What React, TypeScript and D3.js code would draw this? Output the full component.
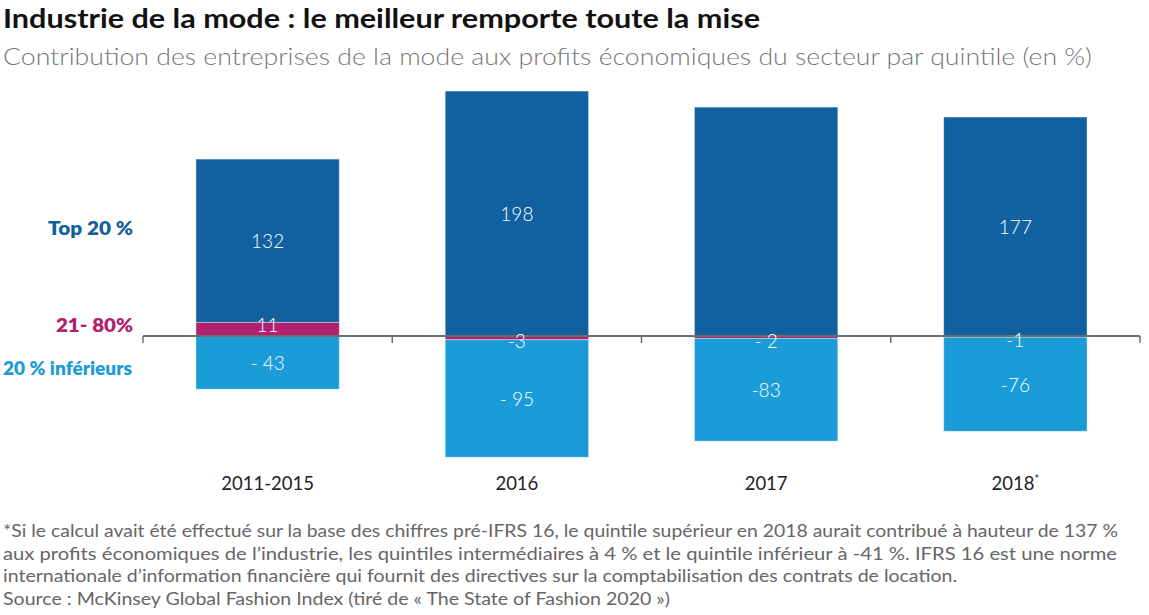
import * as d3 from "d3";

const categories = ["2011-2015", "2016", "2017", "2018"];
const top20 = [132, 198, 185, 177];
const mid = [11, -3, -2, -1];
const bottom = [-43, -95, -83, -76];

const topLabels = ["132", "198", "", "177"];
const midLabels = ["11", "-3", "- 2", "-1"];
const bottomLabels = ["- 43", "- 95", "-83", "-76"];

const seriesNames = ["21- 80%", "Top 20 %", "20 % inférieurs"];

const footnote = [
  "*Si le calcul avait été effectué sur la base des chiffres pré-IFRS 16, le quintile supérieur en 2018 aurait contribué à hauteur de 137 %",
  "aux profits économiques de l’industrie, les quintiles intermédiaires à 4 % et le quintile inférieur à -41 %. IFRS 16 est une norme",
  "internationale d’information financière qui fournit des directives sur la comptabilisation des contrats de location.",
  "Source : McKinsey Global Fashion Index (tiré de « The State of Fashion 2020 »)",
];
const footnoteWidths = [1115, 1114, 954, 667];

const COLORS: Record<string, string> = {
  mid: "#b3206f",
  top: "#1161a0",
  bottom: "#1b9cd8",
};

export default function App() {
  const width = 1149;
  const height = 615;
  const font = "Lato, 'Noto Sans', sans-serif";

  const rows = categories.map((c, i) => ({
    cat: c,
    mid: mid[i],
    top: top20[i],
    bottom: bottom[i],
  }));

  const stack = d3
    .stack<any>()
    .keys(["mid", "top", "bottom"])
    .offset(d3.stackOffsetDiverging);
  const series = stack(rows);

  const xScale = d3
    .scaleBand()
    .domain(categories)
    .range([143, 1140])
    .paddingInner(0.425)
    .paddingOuter(0.2125);

  const zeroY = 336;
  const k = 1.237;
  const yScale = d3
    .scaleLinear()
    .domain([-100, 200])
    .range([zeroY + 100 * k, zeroY - 200 * k]);

  const step = xScale.step();
  const tickXs = d3.range(categories.length + 1).map((i) => 143 + i * step);

  const labelFor: Record<string, string[]> = {
    mid: midLabels,
    top: topLabels,
    bottom: bottomLabels,
  };

  return (
    <svg
      width={width}
      height={height}
      style={{ position: "fixed", left: 0, top: 0, background: "#fff" }}
      fontFamily={font}
    >
      <text
        x={3}
        y={28}
        fontSize="26"
        fontWeight="700"
        fill="#111"
        textLength={757}
        lengthAdjust="spacingAndGlyphs"
      >
        Industrie de la mode : le meilleur remporte toute la mise
      </text>
      <text
        x={3}
        y={65}
        fontSize="23"
        fontWeight="300"
        fill="#777"
        textLength={1089}
        lengthAdjust="spacingAndGlyphs"
      >
        Contribution des entreprises de la mode aux profits économiques du secteur par quintile (en %)
      </text>

      {series.map((s) => (
        <g key={s.key}>
          {s.map((d, i) => {
            const x = xScale(categories[i]) ?? 0;
            const y0 = yScale(d[0]);
            const y1 = yScale(d[1]);
            const yTop = Math.min(y0, y1);
            const h = Math.abs(y1 - y0);
            return (
              <rect
                key={i}
                x={x}
                y={yTop}
                width={xScale.bandwidth()}
                height={h}
                fill={COLORS[s.key]}
                stroke="rgba(255,255,255,0.35)"
                strokeWidth="1"
              />
            );
          })}
        </g>
      ))}

      <line x1={143} x2={1140} y1={zeroY} y2={zeroY} stroke="#6e6e6e" strokeWidth="2" />
      {tickXs.map((tx) => (
        <line key={tx} x1={tx} x2={tx} y1={zeroY} y2={zeroY + 7} stroke="#6e6e6e" strokeWidth="1.5" />
      ))}

      {series.map((s) =>
        s.map((d, i) => {
          const x = (xScale(categories[i]) ?? 0) + xScale.bandwidth() / 2;
          const y0 = yScale(d[0]);
          const y1 = yScale(d[1]);
          let cy = (y0 + y1) / 2;
          if (s.key === "mid") cy += d[1] > 0 ? -5 : 3;
          const label = labelFor[s.key][i];
          if (!label) return null;
          return (
            <text
              key={s.key + i}
              x={x}
              y={cy}
              textAnchor="middle"
              dominantBaseline="central"
              fontSize="19"
              fontWeight="300"
              fill="#fff"
            >
              {label}
            </text>
          );
        })
      )}

      <text x={133} y={228} textAnchor="end" dominantBaseline="central" fontSize="18" fontWeight="800" fill={COLORS.top} textLength={85} lengthAdjust="spacingAndGlyphs">
        {seriesNames[1]}
      </text>
      <text x={133} y={325} textAnchor="end" dominantBaseline="central" fontSize="18" fontWeight="800" fill={COLORS.mid} textLength={77} lengthAdjust="spacingAndGlyphs">
        {seriesNames[0]}
      </text>
      <text x={132} y={368} textAnchor="end" dominantBaseline="central" fontSize="18" fontWeight="800" fill={COLORS.bottom} textLength={129} lengthAdjust="spacingAndGlyphs">
        {seriesNames[2]}
      </text>

      {categories.map((c, i) => (
        <text
          key={c}
          x={(xScale(c) ?? 0) + xScale.bandwidth() / 2}
          y={490}
          textAnchor="middle"
          fontSize="18.5"
          fill="#222"
        >
          {c}
          {i === categories.length - 1 && (
            <tspan dy={-7} fontSize="11">
              *
            </tspan>
          )}
        </text>
      ))}

      {footnote.map((line, i) => (
        <text
          key={i}
          x={3}
          y={537 + i * 22.5}
          fontSize="17.5"
          fill="#666"
          textLength={footnoteWidths[i]}
          lengthAdjust="spacingAndGlyphs"
        >
          {line}
        </text>
      ))}
    </svg>
  );
}
